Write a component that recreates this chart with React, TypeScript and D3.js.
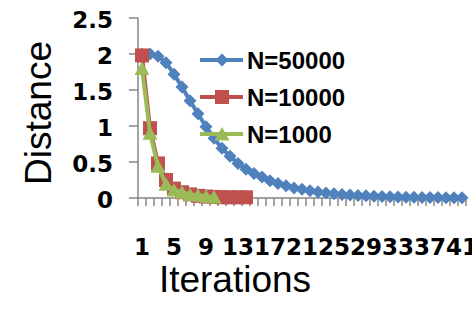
import React from "react";
import { scaleBand, scaleLinear, line } from "d3";

// data
const iterations = Array.from({ length: 41 }, (_, i) => String(i + 1));
const xTickLabels = ["1", "5", "9", "13", "17", "21", "25", "29", "33", "37", "41"];
const yTicks = [0, 0.5, 1, 1.5, 2, 2.5];

const n50000 = [
  2.0, 2.0, 1.97, 1.88, 1.72, 1.54, 1.35, 1.17, 0.99, 0.83,
  0.69, 0.58, 0.48, 0.4, 0.34, 0.29, 0.24, 0.2, 0.17, 0.14,
  0.12, 0.1, 0.085, 0.07, 0.06, 0.05, 0.04, 0.035, 0.03, 0.025,
  0.02, 0.017, 0.014, 0.012, 0.01, 0.008, 0.007, 0.006, 0.005, 0.004, 0.003,
];
const n10000 = [1.98, 0.97, 0.48, 0.25, 0.13, 0.08, 0.05, 0.03, 0.02, 0.015, 0.01, 0.01, 0.01, 0.01];
const n1000 = [1.8, 0.9, 0.44, 0.19, 0.11, 0.08, 0.05, 0.037, 0.024, 0.014];

const series = [
  { name: "N=50000", values: n50000, color: "#4F81BD", marker: "diamond" },
  { name: "N=10000", values: n10000, color: "#C0504D", marker: "square" },
  { name: "N=1000", values: n1000, color: "#9BBB59", marker: "triangle" },
];

const W = 472;
const H = 321;
const axisColor = "#868686";

const markerPath = (type: string, cx: number, cy: number) => {
  if (type === "diamond") {
    const r = 6.5;
    return `M${cx},${cy - r}L${cx + r},${cy}L${cx},${cy + r}L${cx - r},${cy}Z`;
  }
  if (type === "square") {
    const r = 7;
    return `M${cx - r},${cy - r}H${cx + r}V${cy + r}H${cx - r}Z`;
  }
  return `M${cx},${cy - 7}L${cx + 7.5},${cy + 6.5}L${cx - 7.5},${cy + 6.5}Z`;
};

export default function App() {
  const x = scaleBand<string>().domain(iterations).range([138, 466]);
  const y = scaleLinear().domain([0, 2.5]).range([198, 18]);
  const cx = (i: number) => (x(iterations[i]) as number) + x.bandwidth() / 2;

  const path = line<number>()
    .x((_, i) => cx(i))
    .y((d) => y(d));

  const boundaries = iterations.map((c) => x(c) as number).concat([466]);

  return (
    <svg
      width={W}
      height={H}
      style={{ position: "absolute", left: 0, top: 0, background: "#fff" }}
    >
      {/* y axis */}
      <line x1={138} x2={138} y1={y(2.5)} y2={y(0)} stroke={axisColor} strokeWidth={1.5} />
      {yTicks.map((t) => (
        <g key={t}>
          <line x1={129} x2={138} y1={y(t)} y2={y(t)} stroke={axisColor} strokeWidth={1.5} />
          <text
            x={113}
            y={y(t) + 9.5}
            textAnchor="end"
            fontFamily="DejaVu Sans"
            fontWeight="bold"
            fontSize={23}
          >
            {t}
          </text>
        </g>
      ))}

      {/* x axis */}
      <line x1={138} x2={466} y1={198} y2={198} stroke={axisColor} strokeWidth={1.5} />
      {boundaries.map((b, i) => (
        <line key={i} x1={b} x2={b} y1={198} y2={206} stroke={axisColor} strokeWidth={1.5} />
      ))}
      {xTickLabels.map((l) => (
        <text
          key={l}
          x={(x(l) as number) + x.bandwidth() / 2}
          y={255}
          textAnchor="middle"
          fontFamily="DejaVu Sans"
          fontWeight="bold"
          fontSize={23}
        >
          {l}
        </text>
      ))}

      {/* series */}
      {series.map((s) => (
        <g key={s.name}>
          <path d={path(s.values) ?? ""} fill="none" stroke={s.color} strokeWidth={4} />
          {s.values.map((v, i) => (
            <path key={i} d={markerPath(s.marker, cx(i), y(v))} fill={s.color} />
          ))}
        </g>
      ))}

      {/* legend */}
      {series.map((s, i) => {
        const ly = 60 + i * 37;
        return (
          <g key={s.name}>
            <line x1={200} x2={243} y1={ly} y2={ly} stroke={s.color} strokeWidth={4} />
            <path d={markerPath(s.marker, 222, ly)} fill={s.color} />
            <text
              x={247}
              y={ly + 8.5}
              fontFamily="Liberation Sans"
              fontWeight="bold"
              fontSize={24}
            >
              {s.name}
            </text>
          </g>
        );
      })}

      {/* axis titles */}
      <text
        transform="translate(51,113) rotate(-90)"
        textAnchor="middle"
        fontFamily="Liberation Sans"
        fontSize={37}
      >
        Distance
      </text>
      <text x={235} y={292} textAnchor="middle" fontFamily="Liberation Sans" fontSize={37}>
        Iterations
      </text>
    </svg>
  );
}
